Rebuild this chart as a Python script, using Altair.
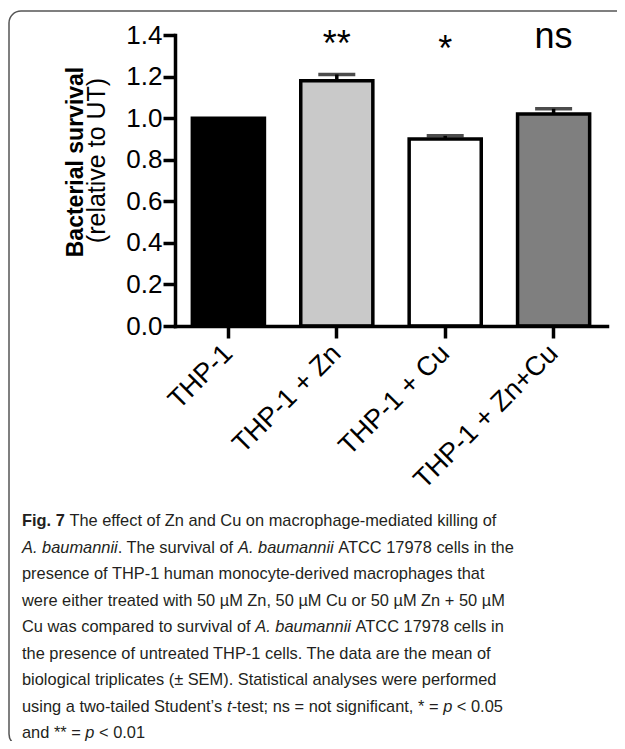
import altair as alt
import pandas as pd

# ---------------- data ----------------
categories = ["THP-1", "THP-1 + Zn", "THP-1 + Cu", "THP-1 + Zn+Cu"]
means = [1.00, 1.18, 0.90, 1.02]
sems = [0.00, 0.03, 0.015, 0.025]
significance = ["", "**", "*", "ns"]
y_ticks = [0.0, 0.2, 0.4, 0.6, 0.8, 1.0, 1.2, 1.4]
y_title = ["Bacterial survival", "(relative to UT)"]

caption_lines = [
    [("b", "Fig. 7"), ("r", " The effect of Zn and Cu on macrophage-mediated killing of")],
    [("i", "A. baumannii"), ("r", ". The survival of "), ("i", "A. baumannii"), ("r", " ATCC 17978 cells in the")],
    [("r", "presence of THP-1 human monocyte-derived macrophages that")],
    [("r", "were either treated with 50 µM Zn, 50 µM Cu or 50 µM Zn + 50 µM")],
    [("r", "Cu was compared to survival of "), ("i", "A. baumannii"), ("r", " ATCC 17978 cells in")],
    [("r", "the presence of untreated THP-1 cells. The data are the mean of")],
    [("r", "biological triplicates (± SEM). Statistical analyses were performed")],
    [("r", "using a two-tailed Student’s "), ("i", "t"), ("r", "-test; ns = not significant, * = "), ("i", "p"), ("r", " < 0.05")],
    [("r", "and ** = "), ("i", "p"), ("r", " < 0.01")],
]

# ---------------- styles ----------------
bar_colors = ["#000000", "#c9c9c9", "#ffffff", "#7f7f7f"]
AX_FONT = "Liberation Sans"
CAP_FONT = "Liberation Sans"
CAP_SIZE = 16.4
CAP_COLOR = "#231f20"
W, H = 432, 291
ann_baseline = {"**": 21, "*": 26, "ns": 13}

REG = {' ': 278, '!': 278, '(': 333, ')': 333, '*': 389, '+': 584, ',': 278, '-': 333,
       '.': 278, ';': 278, '<': 584, '=': 584, '±': 584, 'µ': 576, '’': 222,
       'A': 667, 'B': 667, 'C': 722, 'D': 722, 'E': 667, 'F': 611, 'G': 778, 'H': 722,
       'I': 278, 'M': 833, 'N': 722, 'O': 778, 'P': 667, 'S': 667, 'T': 611, 'U': 722, 'Z': 611,
       'a': 556, 'b': 556, 'c': 500, 'd': 556, 'e': 556, 'f': 278, 'g': 556, 'h': 556,
       'i': 222, 'k': 500, 'l': 222, 'm': 833, 'n': 556, 'o': 556, 'p': 556, 'r': 333,
       's': 500, 't': 278, 'u': 556, 'v': 500, 'w': 722, 'y': 500, 'z': 500}
BOLD = {'F': 611, 'i': 278, 'g': 611, '.': 278, ' ': 278, '7': 556}


def seg_width(text, style):
    table = BOLD if style == "b" else REG
    return sum(table.get(ch, 556) for ch in text) / 1000.0 * CAP_SIZE


df = pd.DataFrame({"group": categories, "mean": means, "sem": sems, "sig": significance})
df["upper"] = df["mean"] + df["sem"]
err_df = df[df["sem"] > 0]

x_axis = alt.Axis(title=None, labelAngle=-45, labelFont=AX_FONT, labelFontSize=27,
                  labelColor="black", labelPadding=11, tickSize=12, tickWidth=3.5,
                  tickColor="black", domainColor="black", domainWidth=3.5,
                  domainCap="square", labelAlign="right", labelBaseline="middle",
                  labelLimit=500, zindex=2)
x_enc = alt.X("group:N", sort=categories,
              scale=alt.Scale(paddingInner=0.335, paddingOuter=0.16), axis=x_axis)
y_scale = alt.Scale(domain=[0, 1.4], nice=False, zero=True)
y_axis = alt.Axis(values=y_ticks, format=".1f", title=None, labelFont=AX_FONT,
                  labelFontSize=26, labelColor="black", labelPadding=1, tickSize=12,
                  tickWidth=3.5, tickColor="black", domainColor="black", domainWidth=3.5,
                  domainCap="square", grid=False, zindex=2)

one = [{}]
layers = []

# outer rounded frame
layers.append(
    alt.Chart(alt.Data(values=one)).mark_rect(
        fill="white", stroke="#555555", strokeWidth=1.5, cornerRadius=12
    ).encode(x=alt.value(-166), x2=alt.value(480), y=alt.value(-24), y2=alt.value(711))
)

# bars
layers.append(
    alt.Chart(df).mark_bar(stroke="black", strokeWidth=3.5).encode(
        x=x_enc,
        y=alt.Y("mean:Q", scale=y_scale, axis=y_axis),
        fill=alt.Fill("group:N", scale=alt.Scale(domain=categories, range=bar_colors), legend=None),
    )
)

# error bars (upper only)
layers.append(
    alt.Chart(err_df).mark_rule(strokeWidth=3.5, color="black").encode(
        x=x_enc, y=alt.Y("mean:Q", scale=y_scale), y2="upper:Q"
    )
)
layers.append(
    alt.Chart(err_df).mark_tick(thickness=3.5, size=37, color="black").encode(
        x=x_enc, y=alt.Y("upper:Q", scale=y_scale)
    )
)

# significance labels
for cat, sig in zip(categories, significance):
    if not sig:
        continue
    layers.append(
        alt.Chart(alt.Data(values=[{"group": cat, "sig": sig}])).mark_text(
            font=AX_FONT, fontSize=36, baseline="alphabetic", align="center", color="black"
        ).encode(x=x_enc, y=alt.value(ann_baseline[sig]), text="sig:N")
    )

# y-axis title (two lines, bold + regular)
layers.append(
    alt.Chart(alt.Data(values=[{"t": y_title[0]}])).mark_text(
        font=AX_FONT, fontSize=23, fontWeight="bold", angle=270, align="center",
        baseline="alphabetic", color="black"
    ).encode(x=alt.value(-92), y=alt.value(127), text="t:N")
)
layers.append(
    alt.Chart(alt.Data(values=[{"t": y_title[1]}])).mark_text(
        font=AX_FONT, fontSize=25, angle=270, align="center",
        baseline="alphabetic", color="black"
    ).encode(x=alt.value(-70), y=alt.value(125.5), text="t:N")
)

# caption
for i, line in enumerate(caption_lines):
    cy = 491 + 26.5 * i
    cursor = -153.0
    for style, txt in line:
        stripped = txt.lstrip(" ")
        cursor += seg_width(txt[: len(txt) - len(stripped)], style)
        shown = stripped.rstrip(" ")
        if shown:
            kw = dict(font=CAP_FONT, fontSize=CAP_SIZE, color=CAP_COLOR,
                      align="left", baseline="alphabetic")
            if style == "b":
                kw["fontWeight"] = "bold"
            if style == "i":
                kw["fontStyle"] = "italic"
            layers.append(
                alt.Chart(alt.Data(values=[{"t": shown}])).mark_text(**kw).encode(
                    x=alt.value(round(cursor, 2)), y=alt.value(cy), text="t:N"
                )
            )
        cursor += seg_width(stripped, style)

chart = alt.layer(*layers).properties(
    width=W, height=H,
    autosize=alt.AutoSizeParams(type="none"),
    padding={"left": 167, "top": 27, "right": 10, "bottom": 415},
    background="white",
).configure_view(strokeOpacity=0)

chart.save("out.html", embed_options={"renderer": "svg", "actions": False})
